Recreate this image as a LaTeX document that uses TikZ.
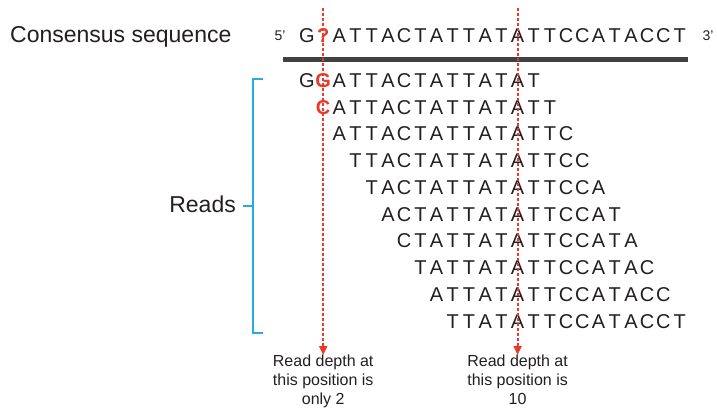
\documentclass[tikz,border=0pt]{standalone}
\usepackage{fontspec}
\setmainfont{Liberation Sans}
\usetikzlibrary{arrows.meta}
\definecolor{ink}{HTML}{231F20}
\definecolor{hlred}{HTML}{E8392A}
\definecolor{bracecol}{HTML}{29ABE2}
\definecolor{barcol}{HTML}{414042}

% one highlighted (mismatching / unknown) base
\newcommand\hlbase[1]{\textcolor{hlred}{\textbf{#1}}}

% place a row of bases on the column grid:
% #1 name prefix, #2 first column, #3 baseline y, #4 comma list of bases
\newcommand\seqrow[4]{%
  \foreach \ch [count=\k from 0] in {#4} {%
    \pgfmathtruncatemacro\col{#2+\k}%
    \node[basech] (#1c\col) at ({307+16.2*\col},#3) {\ch};%
  }%
}

\begin{document}
\begin{tikzpicture}[x=1pt,y=-1pt,
  basech/.style={anchor=base,inner sep=0pt,text=ink,font=\fontsize{20}{24}\selectfont},
  biglabel/.style={inner sep=0pt,text=ink,font=\fontsize{23}{27}\selectfont},
  endlabel/.style={inner sep=0pt,text=ink,font=\fontsize{14}{16}\selectfont,anchor=base},
  depthlabel/.style={inner sep=0pt,text=ink,align=center,anchor=north,font=\fontsize{16}{19}\selectfont},
  depthline/.style={color=hlred,line width=1.8pt,dash pattern=on 3pt off 2pt,
    -{Triangle[width=8pt,length=9pt]}},
  bracket/.style={draw=bracecol,line width=1.5pt},
]
\useasboundingbox (0,0) rectangle (717,409);

% titles
\node[biglabel,anchor=base west] (constitle) at (10,43) {Consensus sequence};
\node[biglabel,anchor=base east] (readstitle) at (236,212) {Reads};

% consensus sequence with strand ends
\seqrow{cons}{0}{43}{G,\hlbase{?},A,T,T,A,C,T,A,T,T,A,T,A,T,T,C,C,A,T,A,C,C,T}
\node[endlabel] (five) at (280,41) {5'};
\node[endlabel] (three) at (708,41) {3'};

% reference bar
\coordinate (barL) at (283,60);
\coordinate (barR) at (688,60);
\draw[barcol,line width=5pt] (barL) -- (barR);

% aligned reads
\seqrow{ra}{0}{87.3}{G,\hlbase{G},A,T,T,A,C,T,A,T,T,A,T,A,T}
\seqrow{rb}{1}{114.05}{\hlbase{C},A,T,T,A,C,T,A,T,T,A,T,A,T,T}
\seqrow{rc}{2}{140.8}{A,T,T,A,C,T,A,T,T,A,T,A,T,T,C}
\seqrow{rd}{3}{167.55}{T,T,A,C,T,A,T,T,A,T,A,T,T,C,C}
\seqrow{re}{4}{194.3}{T,A,C,T,A,T,T,A,T,A,T,T,C,C,A}
\seqrow{rf}{5}{221.05}{A,C,T,A,T,T,A,T,A,T,T,C,C,A,T}
\seqrow{rg}{6}{247.8}{C,T,A,T,T,A,T,A,T,T,C,C,A,T,A}
\seqrow{rh}{7}{274.55}{T,A,T,T,A,T,A,T,T,C,C,A,T,A,C}
\seqrow{ri}{8}{301.3}{A,T,T,A,T,A,T,T,C,C,A,T,A,C,C}
\seqrow{rj}{9}{328.05}{T,T,A,T,A,T,T,C,C,A,T,A,C,C,T}

% bracket grouping the reads
\coordinate (brTopEnd) at (263,79);
\coordinate (brTop) at (253,79);
\coordinate (brBot) at (253,333);
\coordinate (brBotEnd) at (263,333);
\coordinate (brMid) at (253,206);
\coordinate (brTip) at (243,206);
\draw[bracket] (brTopEnd) -- (brTop) -- (brBot) -- (brBotEnd);
\draw[bracket] (brMid) -- (brTip);

% read-depth annotations
\coordinate (ytop) at (0,8);
\coordinate (ylab) at (0,355);
\coordinate (top1) at (consc1.base |- ytop);
\coordinate (top2) at (consc13.base |- ytop);
\node[depthlabel] (depth1) at (consc1.base |- ylab) {Read depth at\\this position is\\only 2};
\node[depthlabel] (depth2) at (consc13.base |- ylab) {Read depth at\\this position is\\10};
\draw[depthline] (top1) -- (depth1.north);
\draw[depthline] (top2) -- (depth2.north);
\end{tikzpicture}
\end{document}
